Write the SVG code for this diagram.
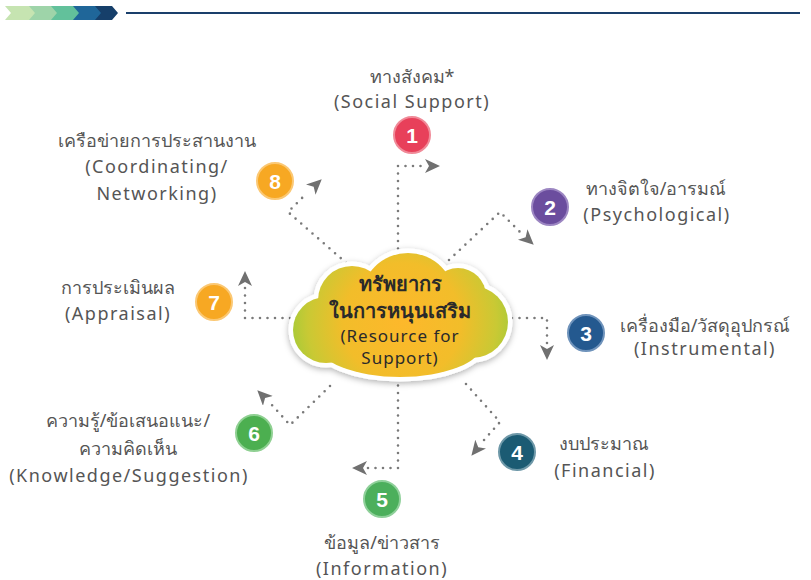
<svg xmlns="http://www.w3.org/2000/svg" width="811" height="580" viewBox="0 0 811 580">
<defs>
<style>
.lbl{font-family:"Noto Sans","Liberation Sans",sans-serif;font-size:18px;fill:#555;text-anchor:middle}
.en{letter-spacing:1.5px}
.num{font-family:"Liberation Sans","Noto Sans",sans-serif;font-size:21px;font-weight:bold;fill:#fff;text-anchor:middle}
.ctr{font-family:"Noto Sans","Liberation Sans",sans-serif;fill:#2a2a2a;text-anchor:middle}
.dot{fill:none;stroke:#7a7a7a;stroke-width:2.6;stroke-linecap:round;stroke-dasharray:0 7.5}
</style>
<marker id="ah" markerUnits="userSpaceOnUse" markerWidth="18" markerHeight="16" refX="14" refY="7" orient="auto">
<path d="M0,0 L15,7 L0,14 L4,7 Z" fill="#707070"/>
</marker>
<radialGradient id="cg" gradientUnits="userSpaceOnUse" cx="402" cy="322" r="118">
<stop offset="0" stop-color="#fdb82b"/>
<stop offset="0.5" stop-color="#f2bd2a"/>
<stop offset="0.8" stop-color="#c9c934"/>
<stop offset="1" stop-color="#9ccb3a"/>
</radialGradient>
<filter id="sh" x="-20%" y="-20%" width="140%" height="140%">
<feDropShadow dx="0" dy="2" stdDeviation="3" flood-color="#000" flood-opacity="0.3"/>
</filter>
</defs>

<g id="banner">
<path d="M5,6 H32 L38,13 L32,20 H5 L11,13 Z" fill="#c6e4b1"/>
<path d="M29,6 H54 L60,13 L54,20 H29 L35,13 Z" fill="#9ed4a9"/>
<path d="M51,6 H76 L82,13 L76,20 H51 L57,13 Z" fill="#62c19b"/>
<path d="M73,6 H97 L103,13 L97,20 H73 L79,13 Z" fill="#1f6699"/>
<path d="M95,6 H112 L118,13 L112,20 H95 L101,13 Z" fill="#163f6a"/>
<line x1="126" y1="13" x2="800" y2="13" stroke="#1a3f6b" stroke-width="2"/>
</g>

<g id="connectors">
<polyline class="dot" points="398,256 398,166 426,166"/>
<line x1="426" y1="166" x2="439" y2="166" stroke="none" marker-end="url(#ah)"/>
<path class="dot" d="M449,260 L500,212 L520,232"/>
<line x1="520" y1="232" x2="533" y2="244" stroke="none" marker-end="url(#ah)"/>
<polyline class="dot" points="512,318 547,318 547,346"/>
<line x1="547" y1="346" x2="547" y2="359" stroke="none" marker-end="url(#ah)"/>
<path class="dot" d="M466,384 L500,422 L484,440"/>
<line x1="484" y1="440" x2="472" y2="455" stroke="none" marker-end="url(#ah)"/>
<polyline class="dot" points="398,378 398,468 367,468"/>
<line x1="367" y1="468" x2="353" y2="468" stroke="none" marker-end="url(#ah)"/>
<path class="dot" d="M330,386 L290,425 L271,404"/>
<line x1="271" y1="404" x2="258" y2="391" stroke="none" marker-end="url(#ah)"/>
<polyline class="dot" points="290,318 245,318 245,286"/>
<line x1="245" y1="286" x2="245" y2="272" stroke="none" marker-end="url(#ah)"/>
<path class="dot" d="M352,268 L288,212 L306,194"/>
<line x1="306" y1="194" x2="321" y2="180" stroke="none" marker-end="url(#ah)"/>
</g>

<g id="center">
<g filter="url(#sh)" stroke="#fff" stroke-width="9" fill="#fff">
<circle cx="408" cy="300" r="47"/>
<circle cx="352" cy="300" r="34"/>
<circle cx="326" cy="330" r="33"/>
<circle cx="472" cy="322" r="36"/>
<circle cx="458" cy="296" r="28"/>
<ellipse cx="400" cy="344" rx="82" ry="33"/>
</g>
<g fill="url(#cg)">
<circle cx="408" cy="300" r="47"/>
<circle cx="352" cy="300" r="34"/>
<circle cx="326" cy="330" r="33"/>
<circle cx="472" cy="322" r="36"/>
<circle cx="458" cy="296" r="28"/>
<ellipse cx="400" cy="344" rx="82" ry="33"/>
</g>
<text class="ctr" x="400" y="291" font-size="20" font-weight="bold">ทรัพยากร</text>
<text class="ctr" x="400" y="318" font-size="20" font-weight="bold">ในการหนุนเสริม</text>
<text class="ctr" x="400" y="342" font-size="17" letter-spacing="1">(Resource for</text>
<text class="ctr" x="400" y="364" font-size="17" letter-spacing="1">Support)</text>
</g>

<g id="n1">
<circle cx="412" cy="135" r="18" fill="#e8405a" stroke="#f08a98" stroke-width="2"/>
<text class="num" x="412" y="143">1</text>
<text class="lbl" x="412" y="83">ทางสังคม*</text>
<text class="lbl en" x="412" y="108">(Social Support)</text>
</g>
<g id="n2">
<circle cx="550" cy="207" r="18" fill="#6b4d9e" stroke="#9c86c2" stroke-width="2"/>
<text class="num" x="550" y="215">2</text>
<text class="lbl" x="656" y="195">ทางจิตใจ/อารมณ์</text>
<text class="lbl en" x="657" y="221">(Psychological)</text>
</g>
<g id="n3">
<circle cx="586" cy="333" r="18" fill="#24598f" stroke="#6f93bb" stroke-width="2"/>
<text class="num" x="586" y="341">3</text>
<text class="lbl" x="705" y="332">เครื่องมือ/วัสดุอุปกรณ์</text>
<text class="lbl en" x="705" y="355">(Instrumental)</text>
</g>
<g id="n4">
<circle cx="517" cy="452" r="18" fill="#1b5b73" stroke="#6e98a8" stroke-width="2"/>
<text class="num" x="517" y="460">4</text>
<text class="lbl" x="604" y="450">งบประมาณ</text>
<text class="lbl en" x="605" y="477">(Financial)</text>
</g>
<g id="n5">
<circle cx="382" cy="499" r="18" fill="#4caf5c" stroke="#8fd09a" stroke-width="2"/>
<text class="num" x="382" y="507">5</text>
<text class="lbl" x="382" y="549">ข้อมูล/ข่าวสาร</text>
<text class="lbl en" x="382" y="575">(Information)</text>
</g>
<g id="n6">
<circle cx="254" cy="433" r="18" fill="#4caf50" stroke="#8fd092" stroke-width="2"/>
<text class="num" x="254" y="441">6</text>
<text class="lbl" x="128" y="427">ความรู้/ข้อเสนอแนะ/</text>
<text class="lbl" x="128" y="455">ความคิดเห็น</text>
<text class="lbl en" x="129" y="482">(Knowledge/Suggestion)</text>
</g>
<g id="n7">
<circle cx="214" cy="302" r="18" fill="#f7a823" stroke="#fbc874" stroke-width="2"/>
<text class="num" x="214" y="310">7</text>
<text class="lbl" x="118" y="294">การประเมินผล</text>
<text class="lbl en" x="118" y="320">(Appraisal)</text>
</g>
<g id="n8">
<circle cx="275" cy="181" r="18" fill="#f7a823" stroke="#fbc874" stroke-width="2"/>
<text class="num" x="275" y="189">8</text>
<text class="lbl" x="157" y="147">เครือข่ายการประสานงาน</text>
<text class="lbl en" x="157" y="173">(Coordinating/</text>
<text class="lbl en" x="157" y="200">Networking)</text>
</g>
</svg>
